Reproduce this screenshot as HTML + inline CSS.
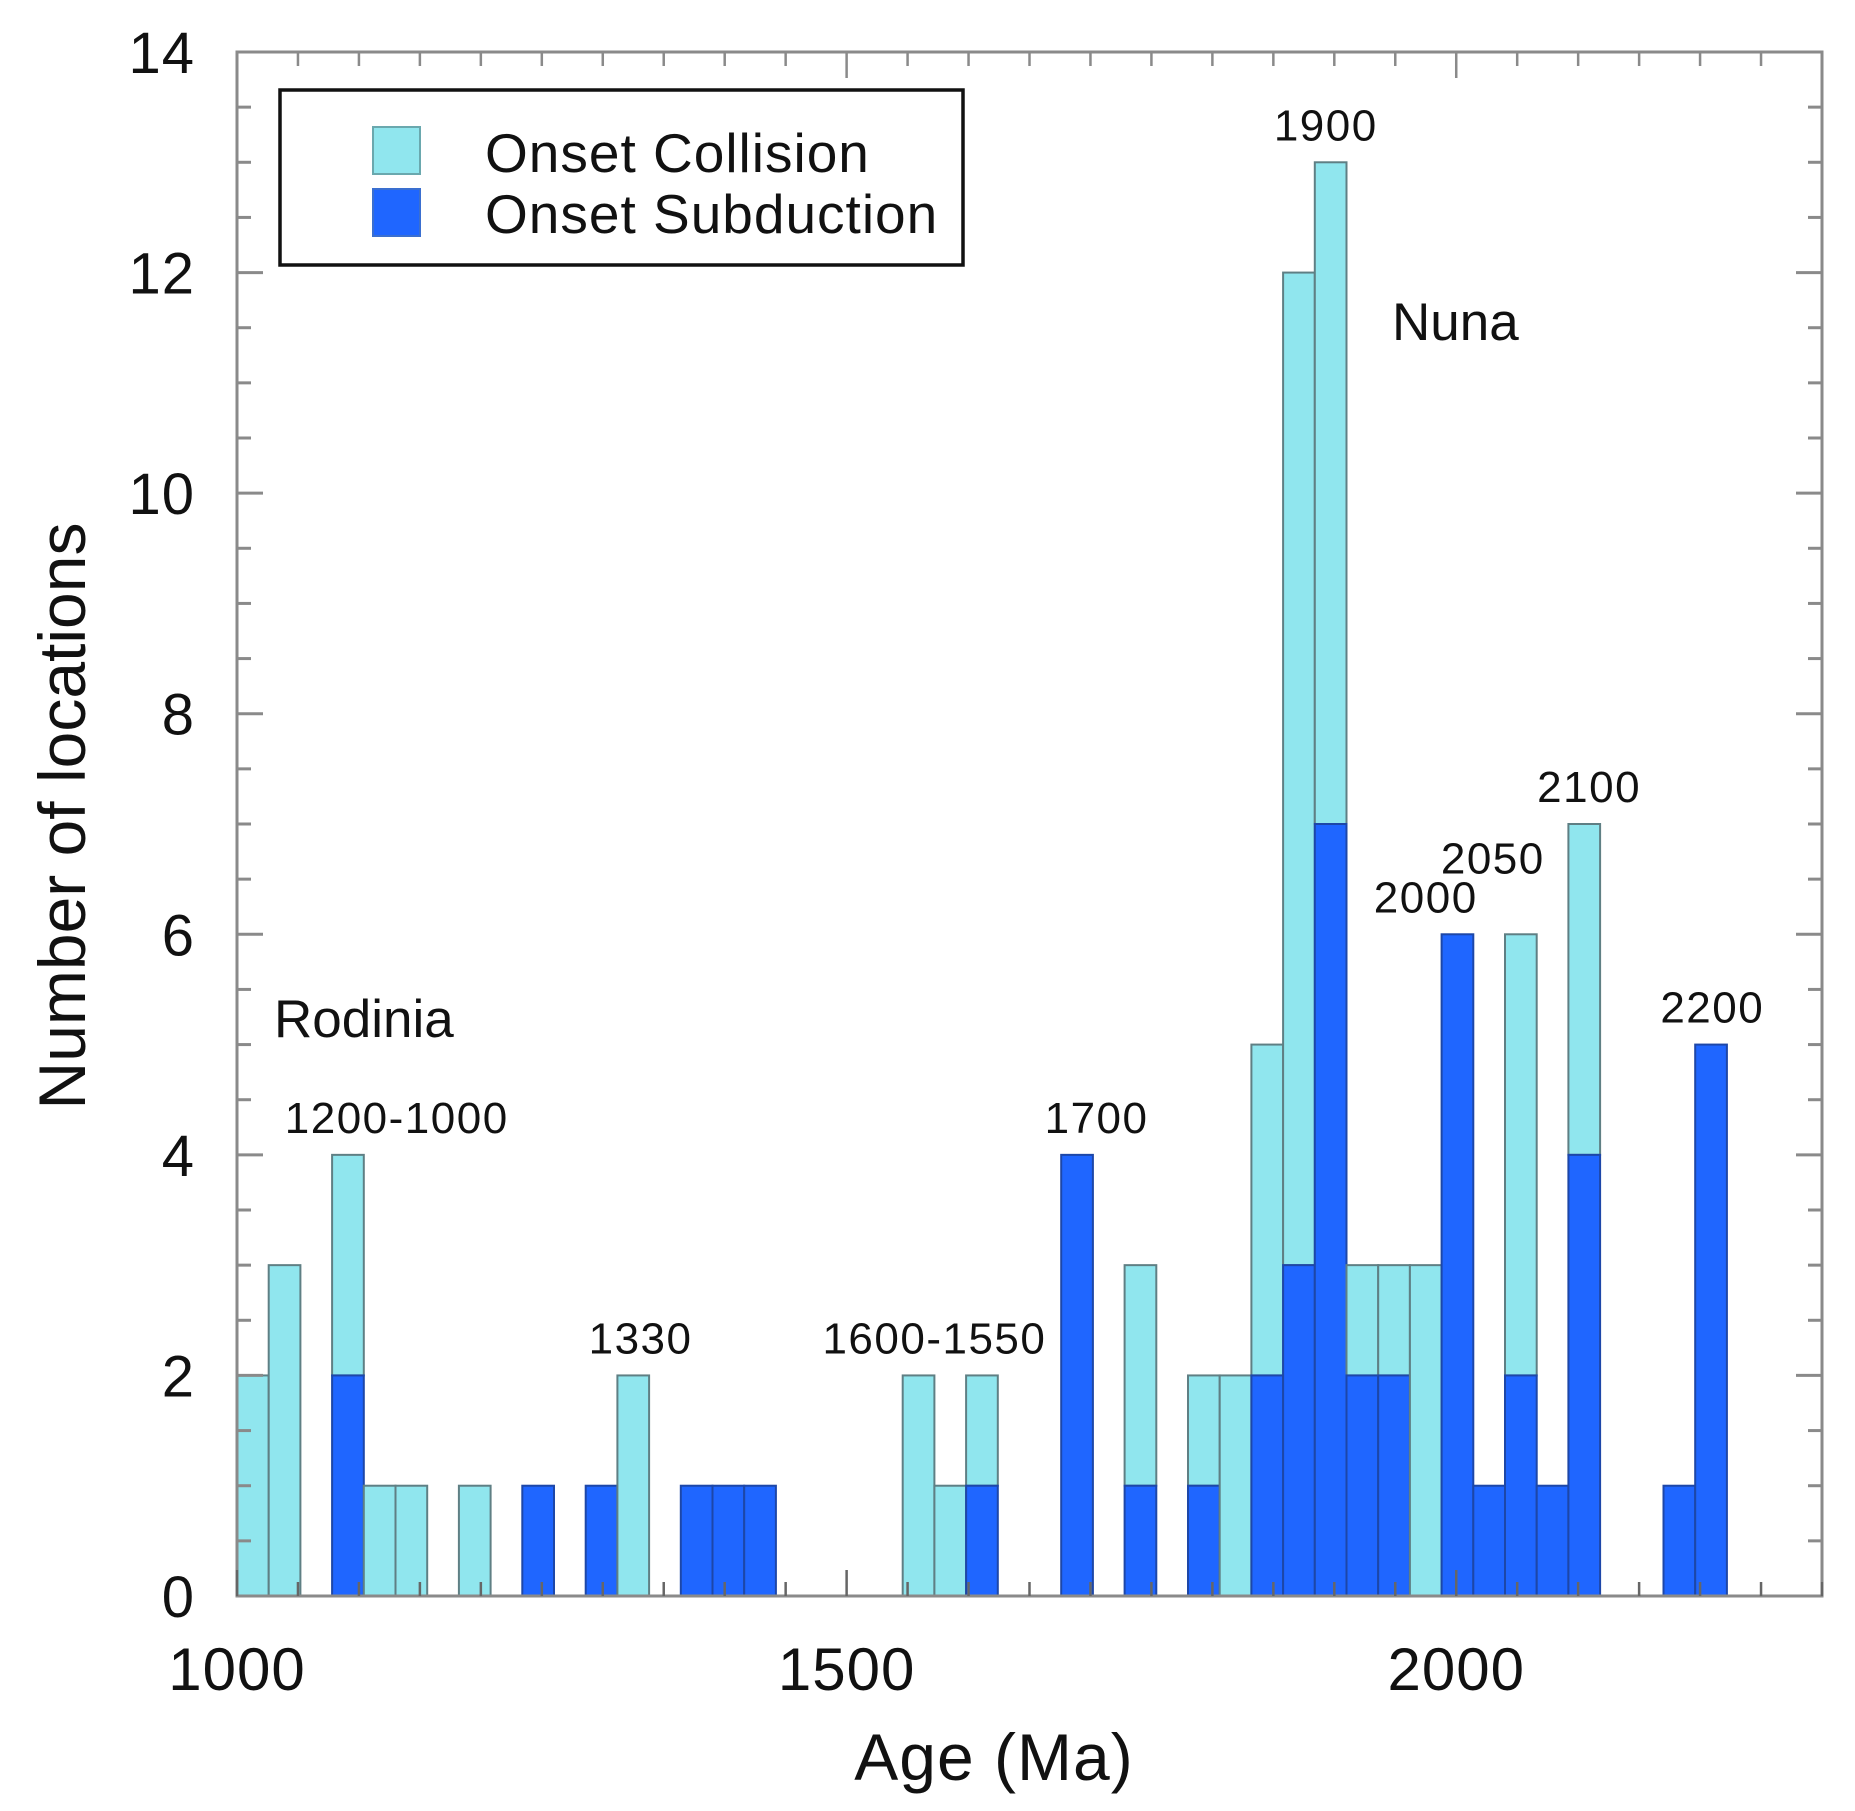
<!DOCTYPE html>
<html><head><meta charset="utf-8"><style>
html,body{margin:0;padding:0;background:#fff;}
svg{display:block;font-family:"Liberation Sans",sans-serif;}
</style></head><body>
<svg id="chart" width="1855" height="1811" viewBox="0 0 1855 1811" xmlns="http://www.w3.org/2000/svg">
<g id="bars"></g>
<g id="axes"></g>
<g id="labels"></g>
<g>
<rect x="280" y="90" width="683" height="175" fill="#fff" stroke="#111" stroke-width="3.5"/>
<rect x="373" y="127" width="47" height="47" fill="#90E6EE" stroke="#6aa8ae" stroke-width="2"/>
<rect x="373" y="189" width="47" height="47" fill="#1F66FF" stroke="#3a6fd0" stroke-width="2"/>
<text x="485" y="172" font-size="55" letter-spacing="1" fill="#111">Onset Collision</text>
<text x="485" y="233" font-size="55" letter-spacing="1" fill="#111">Onset Subduction</text>
</g>
</svg>
<script>
const binStartIndex = [0,1,3,4,5,7,9,11,12,14,15,16,21,22,23,26,28,30,31,32,33,34,35,36,37,38,39,40,41,42,45,46];
const totalCounts   = [2,3,4,1,1,1,1,1,2,1,1,1,2,1,2,4,3,2,2,5,12,13,3,3,3,6,1,6,1,7,1,5];
const subductionCounts = [0,0,2,0,0,0,1,1,0,1,1,1,0,0,1,4,1,1,0,2,3,7,2,2,0,6,1,2,1,4,1,5];
const yTickLabels = [0,2,4,6,8,10,12,14];
const xTickLabels = [1000,1500,2000];
const annotations = [["1200-1000",1131,4],["1330",1331,2],["1600-1550",1572,2],["1700",1705,4],["1900",1893,13],["2000",1975,6],["2050",2030,6.35],["2100",2109,7],["2200",2210,5]];

const NS="http://www.w3.org/2000/svg";
const X0=237,X1=1822,Y0=1596,Y1=52;
const xMin=1000,xMax=2300,yMax=14,binMa=26;
function xs(a){return X0+(a-xMin)*(X1-X0)/(xMax-xMin);}
function ys(v){return Y0-v*(Y0-Y1)/yMax;}
function mk(tag,attrs,parent){const e=document.createElementNS(NS,tag);for(const k in attrs)e.setAttribute(k,attrs[k]);parent.appendChild(e);return e;}
const bars=document.getElementById('bars'),axes=document.getElementById('axes'),labels=document.getElementById('labels');

binStartIndex.forEach((bi,k)=>{
  const a0=xMin+bi*binMa, a1=a0+binMa;
  const x=xs(a0), w=xs(a1)-xs(a0);
  const tot=totalCounts[k], sub=subductionCounts[k];
  if(tot>sub){
    const r=mk('rect',{x:x,y:ys(tot),width:w,height:ys(sub)-ys(tot),fill:'#90E6EE',stroke:'#5f7f84','stroke-width':2},bars);
    
    
  }
  if(sub>0){
    const r=mk('rect',{x:x,y:ys(sub),width:w,height:ys(0)-ys(sub),fill:'#1F66FF',stroke:'#1d47a8','stroke-width':2},bars);
    
    
  }
});

const fr=mk('rect',{x:X0,y:Y1,width:X1-X0,height:Y0-Y1,fill:'none',stroke:'#8a8a8a','stroke-width':3},axes);


for(let v=0;v<=yMax;v+=0.5){
  const y=ys(v), L=(v%2===0)?26:14;
  const t1=mk('line',{x1:X0,x2:X0+L,y1:y,y2:y,stroke:'#8a8a8a','stroke-width':3},axes);
  
  
  const t2=mk('line',{x1:X1,x2:X1-L,y1:y,y2:y,stroke:'#8a8a8a','stroke-width':3},axes);
  
  
}
for(let a=xMin;a<=xMax;a+=50){
  const x=xs(a), L=(a%500===0)?26:14;
  const t1=mk('line',{x1:x,x2:x,y1:Y0,y2:Y0-L,stroke:'#666','stroke-width':2.5},axes);
  
  
  const t2=mk('line',{x1:x,x2:x,y1:Y1,y2:Y1+L,stroke:'#8a8a8a','stroke-width':2.5},axes);
  
  
}
yTickLabels.forEach(v=>{
  const t=mk('text',{x:195,y:ys(v)+21,'font-size':58,'letter-spacing':1,'text-anchor':'end',fill:'#111'},labels);
  t.textContent=v;
  
  
});
xTickLabels.forEach(a=>{
  const t=mk('text',{x:xs(a),y:1690,'font-size':60,'letter-spacing':1,'text-anchor':'middle',fill:'#111'},labels);
  t.textContent=a;
  
  
});
let t=mk('text',{x:994,y:1780,'font-size':66,'letter-spacing':1,'text-anchor':'middle',fill:'#111'},labels);
t.textContent='Age (Ma)';


t=mk('text',{x:0,y:0,'font-size':66,'text-anchor':'middle',fill:'#111',transform:'translate(85,816) rotate(-90)'},labels);
t.textContent='Number of locations';


annotations.forEach(([s,a,v])=>{
  const e=mk('text',{x:xs(a),y:ys(v)-22,'font-size':44,'letter-spacing':1.5,'text-anchor':'middle',fill:'#111'},labels);
  e.textContent=s;
  
  
});
t=mk('text',{x:274,y:1037,'font-size':53,fill:'#111'},labels);
t.textContent='Rodinia';


t=mk('text',{x:1392,y:340,'font-size':53,fill:'#111'},labels);
t.textContent='Nuna';


</script>
</body></html>
